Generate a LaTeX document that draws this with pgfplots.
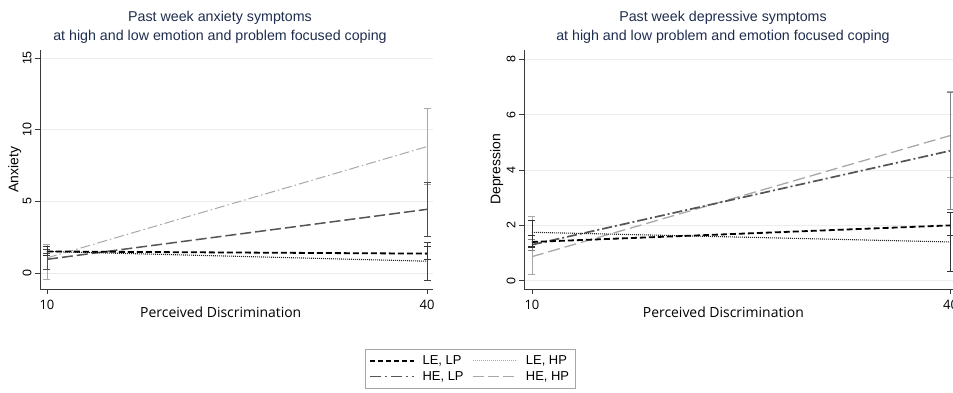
\documentclass[border=0pt]{standalone}
\usepackage{fontspec}
\setmainfont{Liberation Sans}
\newfontfamily\opensans{Open Sans}
\usepackage{pgfplots}
\pgfplotsset{compat=1.18}
\definecolor{titlecol}{HTML}{1F2D4E}
\definecolor{dgray}{HTML}{555555}
\definecolor{lgray}{HTML}{A8A8A8}
\definecolor{gridc}{HTML}{ECECEC}
\definecolor{axc}{HTML}{3A3A3A}
\pgfplotsset{
  stata/.style={
    scale only axis,
    axis lines*=left,
    axis line style={axc, line width=0.8bp},
    tick style={axc, line width=0.7bp},
    tick align=outside,
    major tick length=5bp,
    xtick={10,40},
    xticklabel style={font=\opensans\fontsize{13}{15}\selectfont, yshift=-3bp},
    yticklabel style={rotate=90, anchor=south, font=\fontsize{12.5}{14}\selectfont},
    ymajorgrids,
    grid style={gridc, line width=0.6bp},
    /pgf/number format/assume math mode=true,
    xlabel style={font=\opensans\fontsize{14}{16}\selectfont},
    ylabel style={font=\fontsize{14}{16}\selectfont},
    title style={font=\fontsize{14.3}{19}\selectfont, text=titlecol, align=center, anchor=south, inner sep=0pt, yshift=0bp},
    clip=false,
  },
  ebar/.style={error bars/.cd, y dir=both, y explicit,
    error bar style={solid, line width=0.8bp, #1},
    error mark options={solid, rotate=90, mark size=3.5bp, line width=0.8bp, #1}},
}
\begin{document}
\begin{tikzpicture}
\useasboundingbox (0bp,0bp) rectangle (953bp,393bp);
\clip (0bp,0bp) rectangle (953bp,393bp);
% ---------------- Left: Anxiety
\begin{axis}[stata,
  at={(40bp,104bp)}, anchor=south west,
  width=393bp, height=239bp,
  xmin=9.45, xmax=40.47, ymin=-1.12, ymax=15.56,
  ytick={0,5,10,15},
  title={Past week anxiety symptoms\\at high and low emotion and problem focused coping},
  title style={at={(axis description cs:0.458,1)}},
  xlabel={Perceived Discrimination},
  xlabel style={at={(axis description cs:0.46,0)}, anchor=north, yshift=-14bp},
  ylabel={Anxiety},
  ylabel style={at={(axis description cs:-0.064,0.5)}, anchor=center, rotate=0},
  legend columns=2,
  legend style={at={(axis description cs:1.094,-0.251)}, anchor=north,
    draw=gray!70, font=\fontsize{13}{15}\selectfont,
    row sep=2bp, inner xsep=4bp, inner ysep=5bp,
    nodes={inner ysep=1.5bp, inner xsep=2bp},
    /tikz/every even column/.append style={column sep=7bp}},
  legend cell align=left,
  legend image code/.code={\draw[#1] (0bp,0bp) -- (44bp,0bp);},
]
\addlegendimage{black, line width=1.8bp, dash pattern=on 5bp off 3bp}
\addlegendentry{\hspace{6bp}LE, LP}
\addlegendimage{lgray, line width=1bp, dash pattern=on 1bp off 1bp}
\addlegendentry{\hspace{6bp}LE, HP}
\addlegendimage{dgray, line width=1.5bp, dash pattern=on 11bp off 4bp on 2bp off 4bp}
\addlegendentry{\hspace{6bp}HE, LP}
\addlegendimage{lgray, line width=1.3bp, dash pattern=on 11bp off 4bp}
\addlegendentry{\hspace{6bp}HE, HP}
% light gray dash-dot
\addplot[forget plot, lgray, line width=1bp, dash pattern=on 10bp off 3bp on 1.5bp off 3bp, ebar=lgray]
  coordinates {(10,1.05) += (0,0.97) -= (0,1.49) (40,8.82) += (0,2.67) -= (0,2.67)};
% dark long dash
\addplot[forget plot, dgray, line width=1.5bp, dash pattern=on 11bp off 4bp, ebar=dgray!90!black]
  coordinates {(10,0.95) += (0,0.70) -= (0,0.69) (40,4.44) += (0,1.91) -= (0,1.86)};
% black dotted
\addplot[forget plot, black!85, line width=1.1bp, dash pattern=on 1bp off 1bp, ebar=black!75]
  coordinates {(10,1.5) += (0,0.15) -= (0,0.13) (40,0.82) += (0,1.30) -= (0,1.36)};
% black dashed
\addplot[forget plot, black, line width=1.8bp, dash pattern=on 6bp off 3bp, ebar=black!80]
  coordinates {(10,1.5) += (0,0.34) -= (0,0.30) (40,1.35) += (0,0.53) -= (0,0.40)};
\end{axis}
% ---------------- Right: Depression
\begin{axis}[stata,
  at={(524bp,104bp)}, anchor=south west,
  width=433.5bp, height=239bp,
  xmin=9.43, xmax=40.5, ymin=-0.3, ymax=8.34,
  ytick={0,2,4,6,8},
  title={Past week depressive symptoms\\at high and low problem and emotion focused coping},
  title style={at={(axis description cs:0.459,1)}},
  xlabel={Perceived Discrimination},
  xlabel style={at={(axis description cs:0.46,0)}, anchor=north, yshift=-14bp},
  ylabel={Depression},
  ylabel style={at={(axis description cs:-0.063,0.5)}, anchor=center, rotate=0},
]
% light gray long dash
\addplot[lgray, line width=1.3bp, dash pattern=on 12bp off 5bp, ebar=lgray]
  coordinates {(10,0.87) += (0,1.47) -= (0,0.63) (40,5.25) += (0,1.61) -= (0,1.50)};
% dark dash-dot
\addplot[dgray, line width=1.7bp, dash pattern=on 10bp off 3bp on 2bp off 3bp, ebar=gray]
  coordinates {(10,1.3) += (0,0.2) -= (0,0.2) (40,4.7) += (0,2.12) -= (0,2.12)};
% black dotted
\addplot[black!85, line width=1.1bp, dash pattern=on 1bp off 1bp, ebar=black!80]
  coordinates {(10,1.75) += (0,0.42) -= (0,0.50) (40,1.4) += (0,1.08) -= (0,1.07)};
% black dashed
\addplot[black, line width=1.8bp, dash pattern=on 6bp off 3bp, ebar=black!80]
  coordinates {(10,1.4) += (0,0.22) -= (0,0.18) (40,2.0) += (0,0.46) -= (0,0.38)};
\end{axis}
\end{tikzpicture}
\end{document}
